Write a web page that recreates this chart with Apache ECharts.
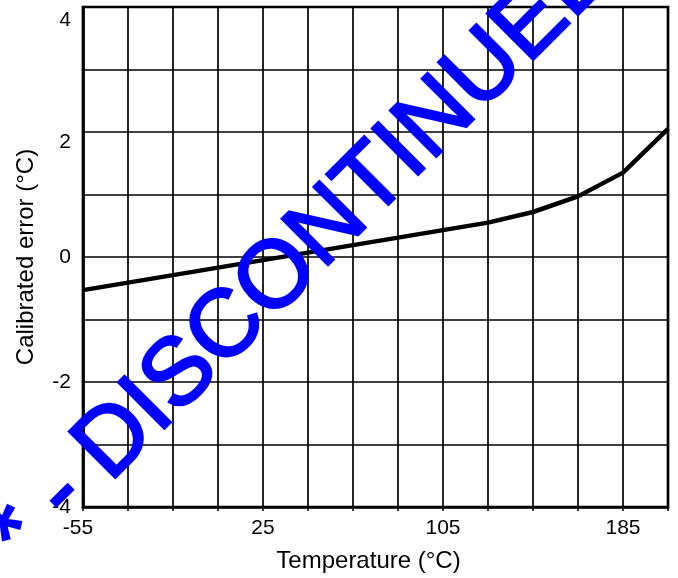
<!DOCTYPE html>
<html>
<head>
<meta charset="utf-8">
<script src="https://cdn.jsdelivr.net/npm/echarts@6/dist/echarts.min.js"></script>
<style>
html,body{margin:0;padding:0;background:#fff;}
#chart{width:678px;height:578px;}
</style>
</head>
<body>
<div id="chart"></div>
<script>
// Data
var temperatures = [-55, -35, -15, 5, 25, 45, 65, 85, 105, 125, 145, 165, 185, 205];
var calibratedError = [-0.53, -0.41, -0.29, -0.17, -0.05, 0.07, 0.19, 0.31, 0.43, 0.55, 0.72, 0.97, 1.35, 2.05];
var xTickLabels = [-55, 25, 105, 185];
var yTickLabels = [-4, -2, 0, 2, 4];
var xTitle = 'Temperature (°C)';
var yTitle = 'Calibrated error (°C)';
var watermark = '* - DISCONTINUED';

var FONT = '"Liberation Sans", Arial, sans-serif';
var chart = echarts.init(document.getElementById('chart'), null, {renderer: 'canvas'});

var lineData = temperatures.map(function (t, i) { return [t, calibratedError[i]]; });

chart.setOption({
  animation: false,
  backgroundColor: '#ffffff',
  grid: {
    left: 83, right: 10, top: 7, bottom: 70,
    show: true, borderColor: '#000', borderWidth: 2.7, backgroundColor: 'transparent'
  },
  xAxis: {
    type: 'value',
    min: -55, max: 205, interval: 20,
    name: xTitle,
    nameLocation: 'middle',
    nameGap: 42,
    nameTextStyle: {fontFamily: FONT, fontSize: 24, color: '#000', padding: [0, 14, 0, 0]},
    axisLine: {show: true, onZero: false, lineStyle: {color: '#000', width: 2.7}},
    axisTick: {show: true, length: 4, lineStyle: {color: '#000', width: 1.5}},
    splitLine: {show: true, lineStyle: {color: '#000', width: 1.7}},
    axisLabel: {
      margin: 11,
      fontFamily: FONT, fontSize: 21, color: '#000',
      showMinLabel: true, showMaxLabel: true,
      formatter: function (v) {
        if (xTickLabels.indexOf(v) < 0) return '';
        if (v === -55) return '{l|-55}';
        return String(v);
      },
      rich: {l: {fontFamily: FONT, fontSize: 21, color: '#000', padding: [0, 10, 0, 0]}}
    }
  },
  yAxis: {
    type: 'value',
    min: -4, max: 4, interval: 1,
    name: yTitle,
    nameLocation: 'middle',
    nameGap: 45,
    nameTextStyle: {fontFamily: FONT, fontSize: 24, color: '#000'},
    axisLine: {show: true, onZero: false, lineStyle: {color: '#000', width: 2.7}},
    axisTick: {show: false},
    splitLine: {show: true, lineStyle: {color: '#000', width: 1.7}},
    axisLabel: {
      margin: 12,
      fontFamily: FONT, fontSize: 21, color: '#000',
      showMinLabel: true, showMaxLabel: true,
      formatter: function (v) {
        if (yTickLabels.indexOf(v) < 0) return '';
        if (v === 4) return '{a|4}';
        if (v === 2) return '{b|2}';
        return String(v);
      },
      rich: {
        a: {fontFamily: FONT, fontSize: 21, color: '#000', padding: [26, 0, 0, 0]},
        b: {fontFamily: FONT, fontSize: 21, color: '#000', padding: [20, 0, 0, 0]}
      }
    }
  },
  series: [{
    type: 'line',
    data: lineData,
    showSymbol: false,
    symbol: 'none',
    smooth: false,
    z: 5,
    lineStyle: {color: '#000', width: 4.5, join: 'round'}
  }],
  graphic: [{
    type: 'text',
    x: 304, y: 252,
    rotation: Math.PI / 4,
    z: 100,
    silent: true,
    style: {
      text: watermark,
      fill: '#0000ff',
      stroke: '#0000ff',
      lineWidth: 2.5,
      font: 'normal 95px "Liberation Sans", Arial, sans-serif',
      align: 'center',
      verticalAlign: 'middle'
    }
  }]
});
</script>
</body>
</html>
